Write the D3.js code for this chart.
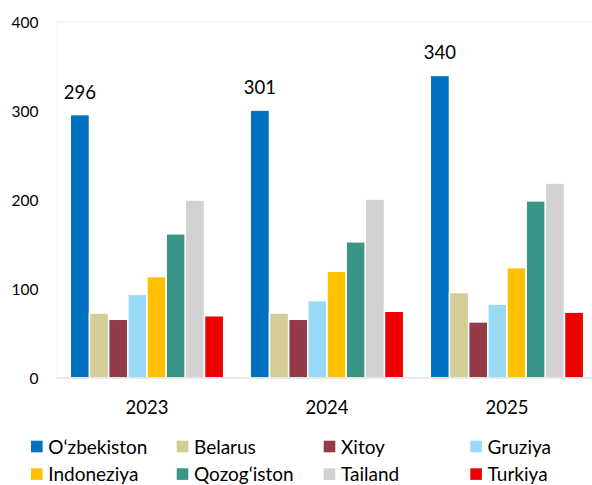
<!DOCTYPE html>
<html>
<head>
<meta charset="utf-8">
<script src="https://cdn.jsdelivr.net/npm/d3@7"></script>
<style>
  body { margin: 0; background: #fff; }
  svg { display: block; font-family: Lato, "Open Sans", sans-serif; }
</style>
</head>
<body>
<svg></svg>
<script>
var years = ["2023", "2024", "2025"];
var countries = ["O‘zbekiston", "Belarus", "Xitoy", "Gruziya", "Indoneziya", "Qozog‘iston", "Tailand", "Turkiya"];
var colors = ["#0070c0", "#d5cd97", "#943b47", "#99dbf7", "#ffc000", "#3a9488", "#d1d1d1", "#ee0000"];
var uzb = [296, 301, 340];
var belarus = [73, 73, 96];
var xitoy = [66, 66, 63];
var gruziya = [94, 87, 83];
var indoneziya = [114, 120, 124];
var qozog = [162, 153, 199];
var tailand = [200, 201, 219];
var turkiya = [70, 75, 74];
var yTicks = [0, 100, 200, 300, 400];

var seriesVals = [uzb, belarus, xitoy, gruziya, indoneziya, qozog, tailand, turkiya];

/* svg setting */
var svgWidth = 592, svgHeight = 485;
var plot = {left: 57, right: 597, top: 22, bottom: 378};

var svg = d3.select("svg")
    .attr("width", svgWidth)
    .attr("height", svgHeight);

var x0 = d3.scaleBand()
    .domain(years)
    .range([plot.left, plot.right])
    .paddingInner(0.148)
    .paddingOuter(0.074);

var x1 = d3.scaleBand()
    .domain(countries)
    .range([0, x0.bandwidth()]);

var y = d3.scaleLinear()
    .domain([0, 400])
    .range([plot.bottom, plot.top]);

/* plot area frame */
svg.append("rect")
    .attr("x", plot.left)
    .attr("y", plot.top)
    .attr("width", plot.right - plot.left)
    .attr("height", plot.bottom - plot.top)
    .attr("fill", "none")
    .attr("stroke", "#efefef");

/* y axis labels */
svg.append("g").selectAll("text")
    .data(yTicks)
    .enter()
    .append("text")
    .attr("x", 38.5)
    .attr("y", function(d){ return y(d); })
    .attr("dy", "0.36em")
    .attr("text-anchor", "end")
    .attr("font-size", 15.5)
    .attr("fill", "#000")
    .text(function(d){ return d; });

/* bars */
var rows = [];
years.forEach(function(yr, i){
  countries.forEach(function(c, j){
    rows.push({year: yr, country: c, value: seriesVals[j][i], color: colors[j]});
  });
});

svg.append("g").selectAll("rect")
    .data(rows)
    .enter()
    .append("rect")
    .attr("x", function(d){ return x0(d.year) + x1(d.country); })
    .attr("y", function(d){ return y(d.value); })
    .attr("width", x1.bandwidth())
    .attr("height", function(d){ return y(0) - y(d.value); })
    .attr("fill", function(d){ return d.color; })
    .attr("stroke", "#fff")
    .attr("stroke-width", 1.5);

/* baseline */
svg.append("line")
    .attr("x1", plot.left)
    .attr("x2", plot.right)
    .attr("y1", y(0))
    .attr("y2", y(0))
    .attr("stroke", "#e3e3e3")
    .attr("stroke-width", 1.5);

/* labels on first series */
svg.append("g").selectAll("text")
    .data(rows.filter(function(d){ return d.country === countries[0]; }))
    .enter()
    .append("text")
    .attr("x", function(d){ return x0(d.year) + x1(d.country) + x1.bandwidth() / 2; })
    .attr("y", function(d){ return y(d.value) - 16; })
    .attr("text-anchor", "middle")
    .attr("font-size", 18.5)
    .text(function(d){ return d.value; });

/* x labels */
svg.append("g").selectAll("text")
    .data(years)
    .enter()
    .append("text")
    .attr("x", function(d){ return x0(d) + x0.bandwidth() / 2; })
    .attr("y", 413.5)
    .attr("text-anchor", "middle")
    .attr("font-size", 18.5)
    .text(function(d){ return d; });

/* legend */
var legX = [31, 176.7, 323.7, 470.3];
var legY = [440.7, 468.3];
var leg = svg.append("g").selectAll("g")
    .data(countries)
    .enter()
    .append("g")
    .attr("transform", function(d, i){ return translate(legX[i % 4], legY[Math.floor(i / 4)]); });

leg.append("rect")
    .attr("width", 11.6)
    .attr("height", 11.6)
    .attr("fill", function(d, i){ return colors[i]; });

leg.append("text")
    .attr("x", 17.3)
    .attr("y", 12.8)
    .attr("font-size", 19)
    .text(function(d){ return d; });

function translate(x, y) {
  return "translate(" + x + "," + y + ")";
}
</script>
</body>
</html>
